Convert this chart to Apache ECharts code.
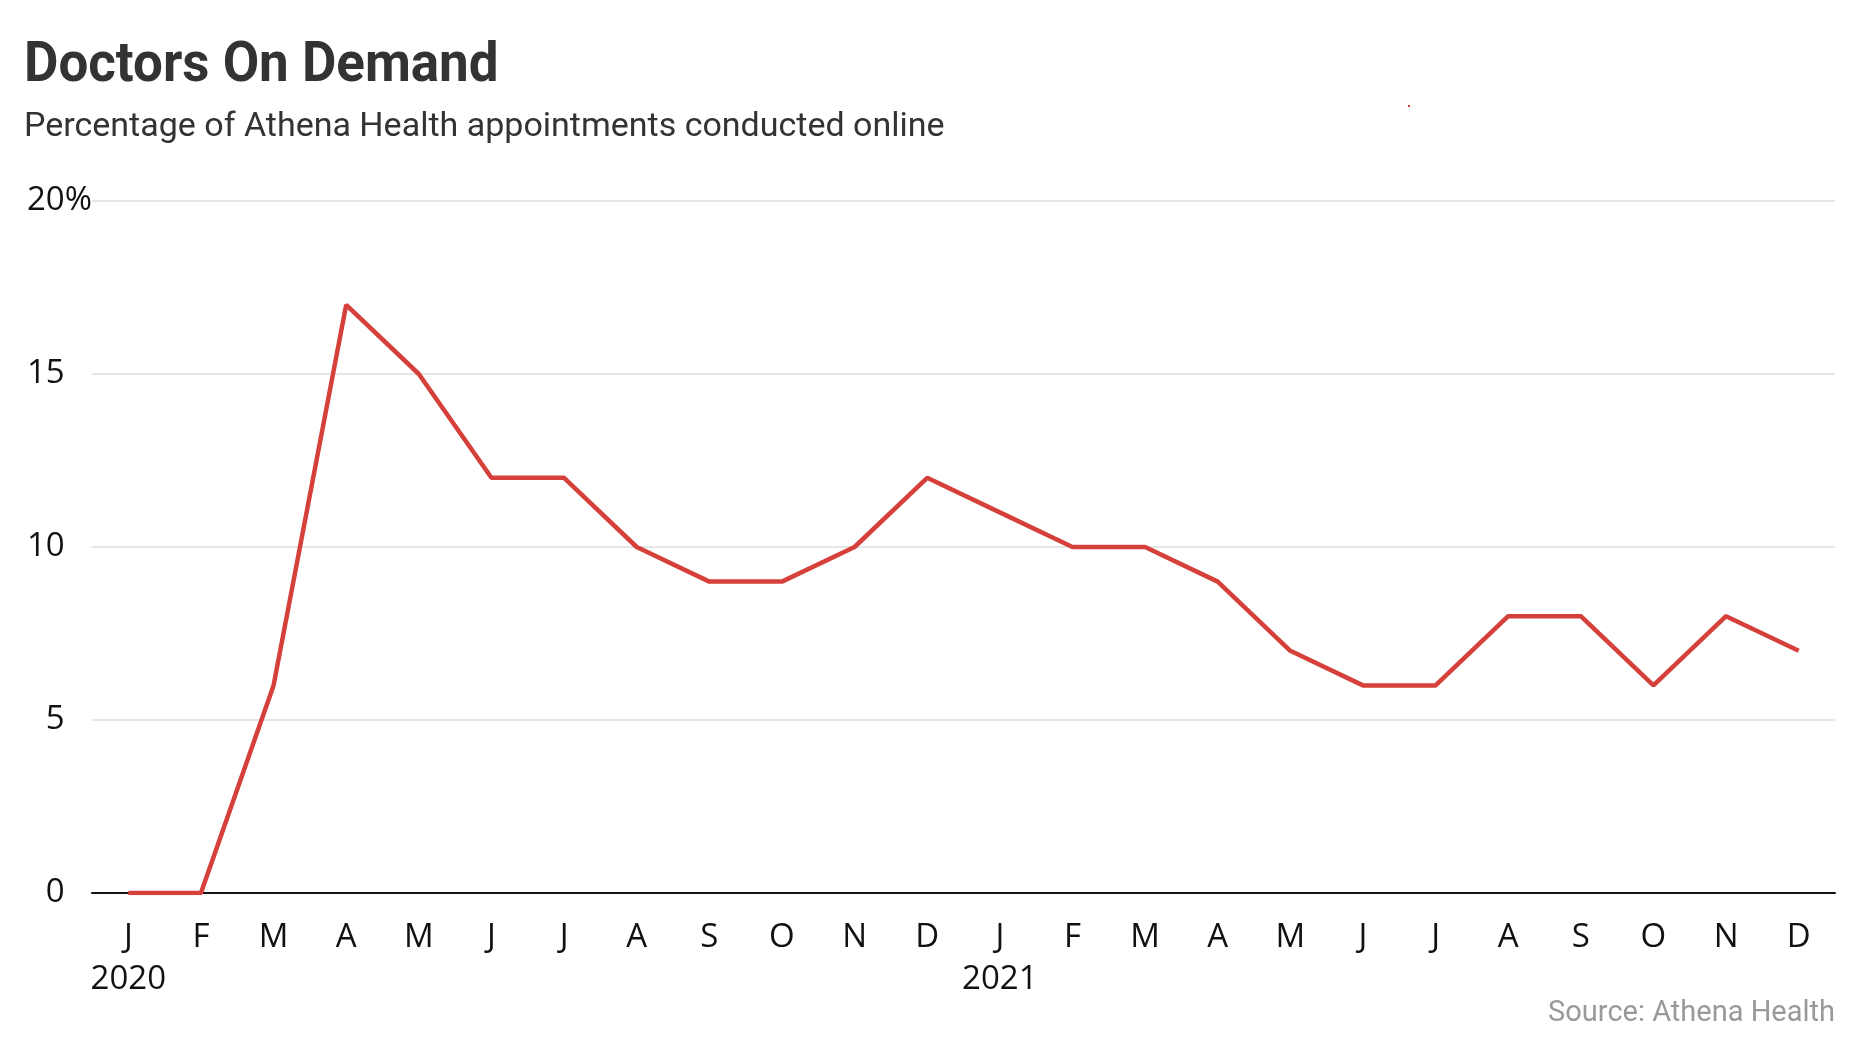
<!DOCTYPE html>
<html>
<head>
<meta charset="utf-8">
<title>Doctors On Demand</title>
<script src="https://cdn.jsdelivr.net/npm/echarts@6/dist/echarts.min.js"></script>
<style>
  html, body { margin: 0; padding: 0; background: #fff; }
  #chart { width: 1860px; height: 1046px; }
</style>
</head>
<body>
<div id="chart"></div>
<script>
// month labels, one per data point (Jan 2020 .. Dec 2021)
var months = ['J', 'F', 'M', 'A', 'M', 'J', 'J', 'A', 'S', 'O', 'N', 'D',
              'J', 'F', 'M', 'A', 'M', 'J', 'J', 'A', 'S', 'O', 'N', 'D'];
var years = ['2020', '2021'];
// share of appointments conducted online, %
var online = [0, 0, 6, 17, 15, 12, 12, 10, 9, 9, 10, 12,
              11, 10, 10, 9, 7, 6, 6, 8, 8, 6, 8, 7];
var yTicks = [0, 5, 10, 15, 20];

var chart = echarts.init(document.getElementById('chart'));

var labelFont = '"Open Sans", sans-serif';

var option = {
    backgroundColor: '#fff',
    animation: false,
    title: [{
        text: 'Percentage of Athena Health appointments conducted online',
        left: 24,
        top: 110,
        padding: 0,
        textStyle: {
            fontFamily: 'Roboto, sans-serif',
            fontWeight: 'normal',
            fontSize: 34,
            lineHeight: 34,
            color: '#333333'
        }
    }, {
        text: 'Source: Athena Health',
        right: 25,
        top: 999,
        padding: 0,
        textStyle: {
            fontFamily: 'Roboto, sans-serif',
            fontWeight: 'normal',
            fontSize: 29,
            lineHeight: 29,
            color: '#999999'
        }
    }],
    grid: {
        left: 92,
        right: 25,
        top: 201,
        bottom: 153
    },
    xAxis: {
        type: 'category',
        data: months,
        boundaryGap: true,
        axisLine: { show: true, lineStyle: { color: '#111', width: 2 } },
        axisTick: { show: false },
        splitLine: { show: false },
        axisLabel: {
            interval: 0,
            margin: 24,
            fontFamily: labelFont,
            fontSize: 33,
            lineHeight: 42,
            color: '#111',
            formatter: function (val, idx) {
                if (idx % 12 === 0) {
                    return val + '\n' + years[idx / 12];
                }
                return val;
            }
        }
    },
    yAxis: {
        type: 'value',
        min: yTicks[0],
        max: yTicks[yTicks.length - 1],
        interval: 5,
        axisLine: { show: false },
        axisTick: { show: false },
        splitLine: { show: true, lineStyle: { color: '#e6e6e6', width: 2 } },
        axisLabel: {
            // left aligned, single digits padded with an invisible digit
            margin: 65,
            align: 'left',
            fontFamily: labelFont,
            fontSize: 33,
            color: '#111',
            formatter: function (v) {
                if (v === yTicks[yTicks.length - 1]) return v + '%';
                if (v < 10) return '{pad|0}' + v;
                return '' + v;
            },
            rich: {
                pad: {
                    fontFamily: labelFont,
                    fontSize: 33,
                    color: 'rgba(0,0,0,0)'
                }
            }
        }
    },
    graphic: [{
        type: 'text',
        x: 24,
        y: 39,
        scaleX: 0.945,
        style: {
            text: 'Doctors On Demand',
            fontFamily: 'Roboto, sans-serif',
            fontWeight: 'bold',
            fontSize: 56,
            fill: '#333333',
            verticalAlign: 'top'
        }
    }, {
        type: 'rect',
        x: 1408,
        y: 105,
        shape: { width: 2, height: 2 },
        style: { fill: '#d6403a' }
    }],
    series: [{
        name: 'Online',
        type: 'line',
        data: online,
        symbol: 'none',
        lineStyle: { color: '#d6403a', width: 4.5 },
        z: 5
    }]
};

chart.setOption(option);
</script>
</body>
</html>
